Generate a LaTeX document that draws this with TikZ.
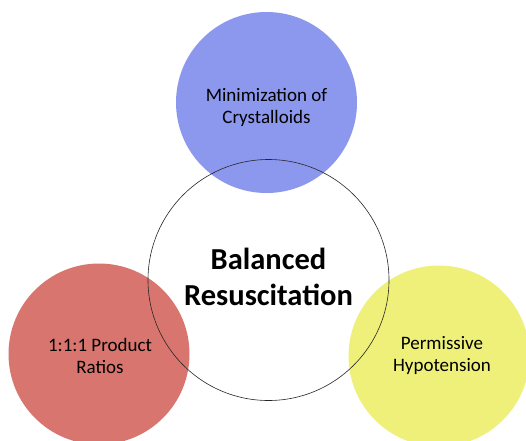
\documentclass[tikz,border=0pt]{standalone}
\usepackage{fontspec}
\setmainfont{Carlito}
\usepackage{tikz}

\definecolor{crystblue}{RGB}{140,151,238}
\definecolor{ratiored}{RGB}{216,117,110}
\definecolor{hypoyellow}{RGB}{238,240,122}

\begin{document}
\begin{tikzpicture}[x=1pt,y=-1pt]
    \tikzstyle{bubble}=[circle, minimum size=181pt, inner sep=0pt]
    \tikzstyle{bubbletext}=[align=center, font=\fontsize{19}{22}\selectfont]
    \tikzstyle{hub}=[circle, draw=black!85, line width=0.6pt, minimum size=241pt,
        inner sep=0pt]
    \tikzstyle{hubtext}=[align=center, font=\fontsize{30.5}{36}\selectfont\bfseries]

    \useasboundingbox[fill=white] (0,0) rectangle (526,440);

    % Outer topics
    \node[bubble, fill=crystblue] (crystalloids) at (266.5,102.5) {};
    \node[bubbletext] (crystalloidstext) at (266.5,107.5)
        {Minimization of\\Crystalloids};
    \node[bubble, fill=ratiored] (ratios) at (99,354) {};
    \node[bubbletext] (ratiostext) at (100,355.5) {1:1:1 Product\\Ratios};
    \node[bubble, fill=hypoyellow] (hypotension) at (439,356) {};
    \node[bubbletext] (hypotensiontext) at (442,355.5) {Permissive\\Hypotension};

    % Central topic
    \node[hub] (balanced) at (268.5,280) {};
    \node[hubtext] (balancedtext) at (268.5,277) {Balanced\\Resuscitation};
\end{tikzpicture}
\end{document}
